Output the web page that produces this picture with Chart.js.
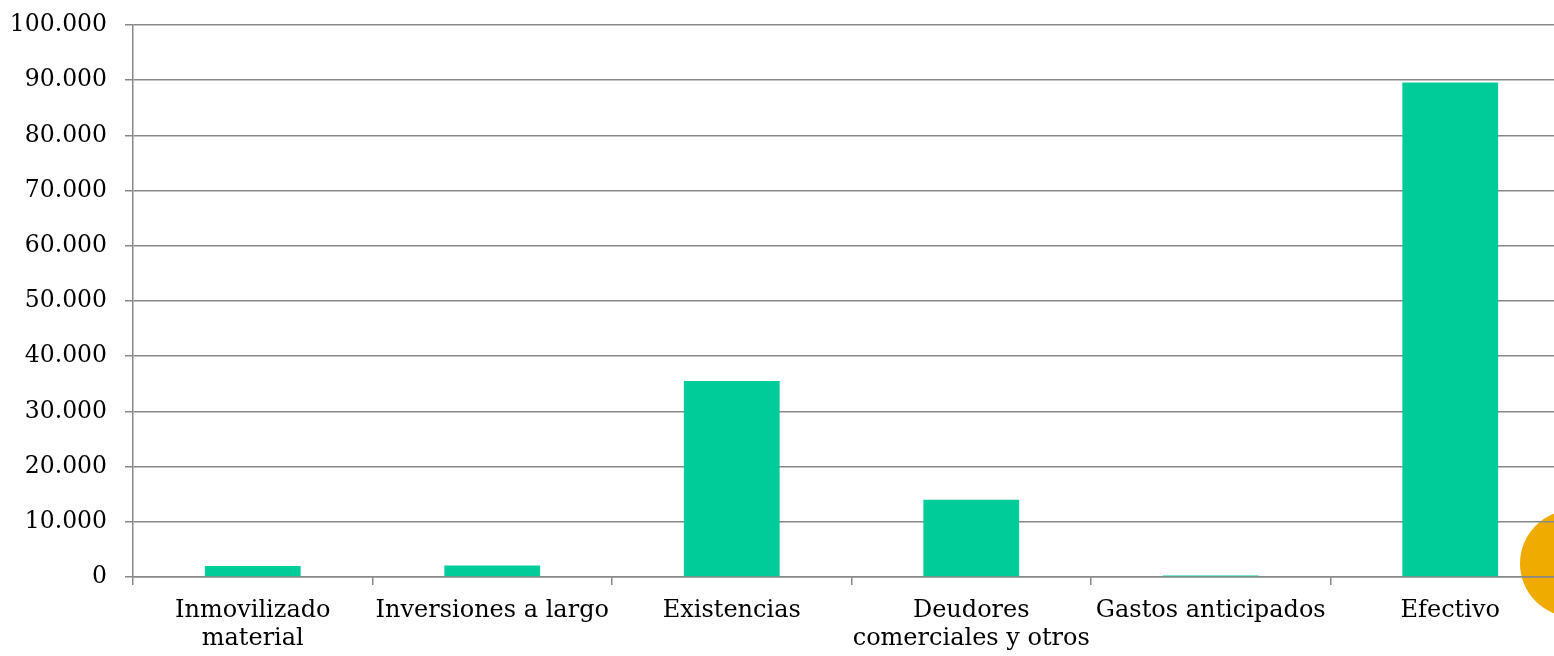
<!DOCTYPE html>
<html>
<head>
<meta charset="utf-8">
<script src="https://cdn.jsdelivr.net/npm/chart.js@4"></script>
<style>
  html, body { margin: 0; padding: 0; background: #fff; overflow: hidden; }
  #wrap { position: relative; width: 1600px; height: 656px; }
  canvas { display: block; }
</style>
</head>
<body>
<div id="wrap"><canvas id="c" width="1600" height="656"></canvas></div>
<script>
const categories = [
  ["Inmovilizado", "material"],
  "Inversiones a largo",
  "Existencias",
  ["Deudores", "comerciales y otros"],
  "Gastos anticipados",
  "Efectivo"
];
const values = [2000, 2100, 35500, 14000, 250, 89600];
const yMin = 0;
const yMax = 100000;
const yStep = 10000;

function fmt(v) {
  return String(Math.round(v)).replace(/\B(?=(\d{3})+(?!\d))/g, ".");
}

const FONT = "'DejaVu Serif', serif";

const decoCircle = {
  id: 'decoCircle',
  beforeDraw(chart) {
    const ctx = chart.ctx;
    ctx.save();
    ctx.fillStyle = '#F0AB00';
    ctx.beginPath();
    ctx.arc(1573.5, 563.5, 53.5, 0, Math.PI * 2);
    ctx.fill();
    ctx.restore();
  }
};

new Chart(document.getElementById('c'), {
  type: 'bar',
  data: {
    labels: categories,
    datasets: [{
      data: values,
      backgroundColor: '#00CC99',
      borderWidth: 0,
      barPercentage: 0.8,
      categoryPercentage: 0.5
    }]
  },
  options: {
    responsive: false,
    animation: false,
    devicePixelRatio: 1,
    layout: { padding: { left: 0, right: 30, top: 25, bottom: 0 } },
    plugins: { legend: { display: false }, tooltip: { enabled: false } },
    scales: {
      x: {
        offset: true,
        grid: {
          offset: true,
          drawOnChartArea: false,
          drawTicks: true,
          tickLength: 8,
          color: '#888888',
          lineWidth: 1.5
        },
        border: { display: true, color: '#888888', width: 1.5 },
        ticks: {
          color: '#000',
          font: { family: FONT, size: 24, lineHeight: 1.2 },
          padding: 11,
          autoSkip: false,
          maxRotation: 0,
          minRotation: 0
        },
        afterFit(scale) { scale.height = 79; }
      },
      y: {
        min: yMin,
        max: yMax,
        grid: {
          color: '#888888',
          lineWidth: 1.5,
          tickLength: 8,
          drawTicks: true
        },
        border: { display: true, color: '#888888', width: 1.5 },
        ticks: {
          stepSize: yStep,
          color: '#000',
          font: { family: FONT, size: 23.5, lineHeight: 0.6 },
          padding: 18,
          callback: (v) => fmt(v)
        },
        afterFit(scale) { scale.width = 133; }
      }
    }
  },
  plugins: [decoCircle]
});
</script>
</body>
</html>
